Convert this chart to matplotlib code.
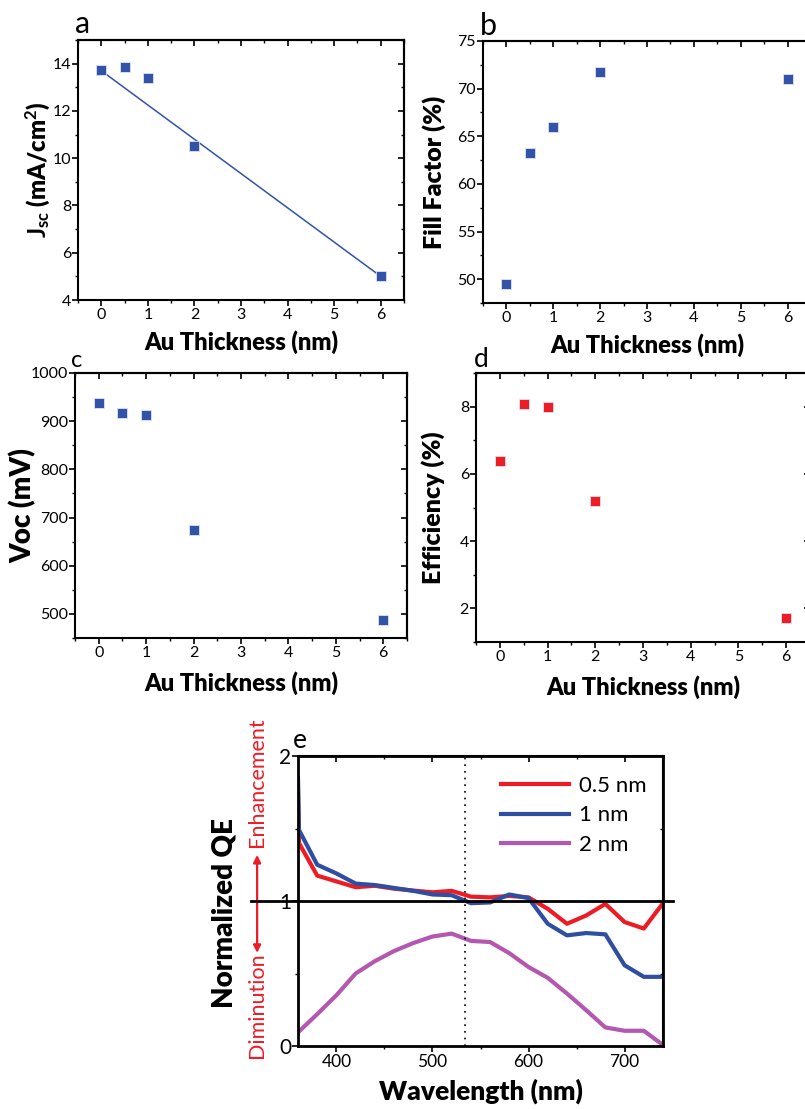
# Au thickness series: Jsc, FF, Voc, efficiency and normalized QE

# Imports
import matplotlib
matplotlib.use('Agg')
from matplotlib import pyplot as plt
from matplotlib.ticker import MultipleLocator

plt.rcParams['font.family'] = ['Lato', 'DejaVu Sans']
plt.rcParams['mathtext.fontset'] = 'custom'
plt.rcParams['mathtext.rm'] = 'Lato'
plt.rcParams['mathtext.bf'] = 'Lato:bold'
plt.rcParams['mathtext.it'] = 'Lato:italic'

# Data
thickness = [0, 0.5, 1, 2, 6]
jsc = [13.75, 13.85, 13.4, 10.5, 5.0]
jsc_fit_x = [0, 6]
jsc_fit_y = [13.7, 5.0]
fill_factor = [49.5, 63.2, 66.0, 71.7, 71.0]
voc = [937, 918, 912, 674, 487]
efficiency = [6.38, 8.08, 8.0, 5.2, 1.7]

wavelength = [360, 361, 380, 400, 420, 440, 460, 480, 500, 520, 540,
              560, 580, 600, 620, 640, 660, 680, 700, 720, 740]
qe_05 = [1.75, 1.40, 1.175, 1.135, 1.095, 1.105, 1.085, 1.072, 1.06, 1.07, 1.03,
         1.025, 1.035, 1.025, 0.946, 0.843, 0.90, 0.98, 0.855, 0.81, 0.985]
qe_1 = [1.85, 1.49, 1.25, 1.19, 1.12, 1.11, 1.09, 1.07, 1.045, 1.04, 0.985,
        0.99, 1.045, 1.02, 0.843, 0.763, 0.779, 0.77, 0.557, 0.477, 0.477]
qe_2 = [0.10, 0.10, 0.22, 0.35, 0.50, 0.585, 0.655, 0.71, 0.755, 0.775, 0.725,
        0.717, 0.64, 0.545, 0.47, 0.362, 0.247, 0.128, 0.105, 0.105, 0.007]
qe_labels = ['0.5 nm', '1 nm', '2 nm']

BLUE = '#3253a8'
RED = '#ee1c25'
W, H = 805, 1109


def box(l, t, r, b):
    # pixel box -> figure fraction
    return [l / W, 1 - b / H, (r - l) / W, (b - t) / H]


def style(ax, xmaj, xmin, ymaj, ymin, xsize=11.5, ysize=11.5):
    for s in ax.spines.values():
        s.set_linewidth(1.5)
    ax.xaxis.set_major_locator(MultipleLocator(xmaj))
    ax.xaxis.set_minor_locator(MultipleLocator(xmin))
    ax.yaxis.set_major_locator(MultipleLocator(ymaj))
    ax.yaxis.set_minor_locator(MultipleLocator(ymin))
    ax.tick_params(which='major', length=4, width=1.2, direction='out')
    ax.tick_params(which='minor', length=2.5, width=1.0, direction='out')
    ax.tick_params(axis='x', labelsize=xsize, pad=2)
    ax.tick_params(axis='y', labelsize=ysize, pad=1)
    # mirror ticks pointing inward
    top = ax.secondary_xaxis('top')
    top.xaxis.set_major_locator(MultipleLocator(xmaj))
    top.xaxis.set_minor_locator(MultipleLocator(xmin))
    top.tick_params(which='major', length=4, width=1.2, direction='in', labeltop=False)
    top.tick_params(which='minor', length=2.5, width=1.0, direction='in')
    right = ax.secondary_yaxis('right')
    right.yaxis.set_major_locator(MultipleLocator(ymaj))
    right.yaxis.set_minor_locator(MultipleLocator(ymin))
    right.tick_params(which='major', length=4, width=1.2, direction='in', labelright=False)
    right.tick_params(which='minor', length=2.5, width=1.0, direction='in')
    for s in top.spines.values():
        s.set_linewidth(1.5)
    for s in right.spines.values():
        s.set_linewidth(1.5)


def squares(ax, y, color):
    ax.plot(thickness, y, 's', color=color, markersize=7.5,
            markeredgecolor='#dfe3f3', markeredgewidth=0.6, zorder=3)


fig = plt.figure(figsize=(W / 100, H / 100), dpi=100)
xlab = dict(fontsize=17, fontweight='heavy')
ylab = dict(fontsize=18, fontweight='heavy')

# a
ax_a = fig.add_axes(box(78, 40, 404, 300))
ax_a.plot(jsc_fit_x, jsc_fit_y, '-', color=BLUE, lw=1.1)
squares(ax_a, jsc, BLUE)
ax_a.set_xlim(-0.5, 6.5)
ax_a.set_ylim(4, 15)
style(ax_a, 1, 0.5, 2, 1)
ax_a.set_xlabel('Au Thickness (nm)', labelpad=6, **xlab)
ax_a.set_ylabel(r'$\mathbf{J_{sc}}$ (mA/cm$^{\mathbf{2}}$)', fontsize=17, fontweight='heavy')
ax_a.yaxis.set_label_coords(-0.08, 0.5)

# b
ax_b = fig.add_axes(box(483, 41, 811, 303))
squares(ax_b, fill_factor, BLUE)
ax_b.set_xlim(-0.5, 6.5)
ax_b.set_ylim(47.5, 75)
style(ax_b, 1, 0.5, 5, 2.5)
ax_b.set_xlabel('Au Thickness (nm)', labelpad=6, **xlab)
ax_b.set_ylabel('Fill Factor (%)', **ylab)
ax_b.yaxis.set_label_coords(-0.113, 0.5)

# c
ax_c = fig.add_axes(box(75, 373, 407, 638))
squares(ax_c, voc, BLUE)
ax_c.set_xlim(-0.5, 6.5)
ax_c.set_ylim(450, 1000)
style(ax_c, 1, 0.5, 100, 50)
ax_c.set_xlabel('Au Thickness (nm)', labelpad=8, **xlab)
ax_c.set_ylabel('Voc (mV)', fontsize=20, fontweight='heavy')
ax_c.yaxis.set_label_coords(-0.117, 0.5)

# d
ax_d = fig.add_axes(box(476, 373, 810, 642))
squares(ax_d, efficiency, RED)
ax_d.set_xlim(-0.5, 6.5)
ax_d.set_ylim(1, 9)
style(ax_d, 1, 0.5, 2, 1)
ax_d.set_xlabel('Au Thickness (nm)', labelpad=8, **xlab)
ax_d.set_ylabel('Efficiency (%)', **ylab)
ax_d.yaxis.set_label_coords(-0.093, 0.5)

# e
ax_e = fig.add_axes(box(298, 756, 663, 1046))
ax_e.plot(wavelength, qe_05, color='#ed1c24', lw=3, label=qe_labels[0])
ax_e.plot(wavelength, qe_1, color='#2e4ea2', lw=3, label=qe_labels[1])
ax_e.plot(wavelength, qe_2, color='#b457b0', lw=3, label=qe_labels[2])
ax_e.axhline(1, xmin=-0.13, xmax=1.027, color='black', lw=2, clip_on=False, zorder=4)
ax_e.axvline(534, color='black', lw=1.2, ls=(0, (1, 3)))
ax_e.set_xlim(360, 740)
ax_e.set_ylim(0, 2)
style(ax_e, 100, 50, 1, 0.5, xsize=12.5, ysize=15)
for s in ax_e.spines.values():
    s.set_linewidth(2)
ax_e.set_xlabel('Wavelength (nm)', fontsize=19, fontweight='heavy', labelpad=6)
ax_e.set_ylabel('Normalized QE', fontsize=20, fontweight='heavy')
ax_e.yaxis.set_label_coords(-0.165, 0.46)
ax_e.legend(loc='upper left', bbox_to_anchor=(0.50, 1.0), frameon=False,
            fontsize=16, handlelength=3.1, handletextpad=0.45, labelspacing=0.42)
ax_e.text(-0.112, 0.909, 'Enhancement', transform=ax_e.transAxes, rotation=90,
          color=RED, fontsize=15.5, ha='center', va='center')
ax_e.text(-0.112, 0.141, 'Diminution', transform=ax_e.transAxes, rotation=90,
          color=RED, fontsize=15.5, ha='center', va='center')
ax_e.annotate('', xy=(-0.112, 0.659), xytext=(-0.112, 0.321), xycoords='axes fraction',
              arrowprops=dict(arrowstyle='<|-|>', color=RED, lw=1.6,
                              mutation_scale=11, shrinkA=0, shrinkB=0),
              annotation_clip=False)

# panel letters
for letter, x, y, size in [('a', 75, 33, 22), ('b', 480, 35, 22), ('c', 71, 367, 17),
                           ('d', 474, 367, 19), ('e', 293, 748, 19)]:
    fig.text(x / W, 1 - y / H, letter, fontsize=size, va='baseline')

fig.savefig('out.png', dpi=100)
